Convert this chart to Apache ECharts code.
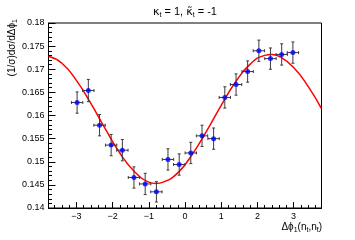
<!DOCTYPE html>
<html><head><meta charset="utf-8">
<script src="https://cdn.jsdelivr.net/npm/echarts@6/dist/echarts.min.js"></script>
<style>html,body{margin:0;padding:0;background:#fff}#c{width:355px;height:240px}</style>
</head><body><div id="c"></div>
<script>
// Data
const binCenters = [-2.98, -2.67, -2.36, -2.04, -1.73, -1.41, -1.10, -0.79, -0.47, -0.16,
                    0.16, 0.47, 0.79, 1.10, 1.41, 1.73, 2.04, 2.36, 2.67, 2.98];
const binHalfWidth = [0.157,0.157,0.157,0.157,0.157,0.157,0.157,0.157,0.157,0.157,
                      0.157,0.157,0.157,0.157,0.157,0.157,0.157,0.157,0.157,0.157];
const yValues = [0.1628, 0.1654, 0.1579, 0.1536, 0.1525, 0.1466, 0.1452, 0.1435, 0.1505, 0.1494,
                 0.1519, 0.1556, 0.1550, 0.1639, 0.1667, 0.1695, 0.1740, 0.1723, 0.1732, 0.1736];
const yErrors = [0.0023,0.0024,0.0023,0.0023,0.0023,0.0023,0.0023,0.0022,0.0023,0.0023,
                 0.0023,0.0023,0.0023,0.0023,0.0023,0.0023,0.0023,0.0023,0.0023,0.0023];
// Fit curve samples
const curveX = [-3.77, -3.4, -3.0, -2.6, -2.2, -1.8, -1.4, -1.0, -0.8, -0.6, -0.2,
                0.2, 0.6, 1.0, 1.4, 1.8, 2.2, 2.4, 2.6, 3.0, 3.4, 3.77];
const curveY = [0.1728, 0.1713, 0.1676, 0.1626, 0.1571, 0.1519, 0.1479, 0.1456, 0.1453, 0.1456, 0.1476,
                0.1516, 0.1567, 0.1622, 0.1673, 0.1711, 0.1730, 0.1732, 0.1728, 0.1704, 0.1663, 0.1615];
const xRange = [-3.77, 3.77];
const yRange = [0.14, 0.18];
const yTickStep = 0.005;

const FONT = 'Liberation Sans, Arial, Helvetica, sans-serif';
const chart = echarts.init(document.getElementById('c'), null, {renderer: 'canvas'});

const errData = binCenters.map((x, i) => [x, yValues[i], binHalfWidth[i], yErrors[i]]);
const ptData = binCenters.map((x, i) => [x, yValues[i]]);
const curveData = curveX.map((x, i) => [x, curveY[i]]);

const subStyle = {fontSize: 7, fontFamily: FONT, color: '#000', padding: [7, 0, 0, 0]};
const kt = {fontSize: 11, fontFamily: 'DejaVu Sans', color: '#000'};

chart.setOption({
  animation: false,
  grid: {left: 48.5, right: 33.5, top: 23, bottom: 32, show: true, borderColor: '#000', borderWidth: 1,
         backgroundColor: 'transparent', containLabel: false, outerBoundsMode: 'none'},
  xAxis: {
    type: 'value', min: xRange[0], max: xRange[1], splitNumber: 7,
    axisLine: {show: true, onZero: false, lineStyle: {color: '#000', width: 1}},
    axisTick: {show: true, inside: true, length: 6, lineStyle: {color: '#000'}},
    minorTick: {show: true, splitNumber: 5, length: 3, lineStyle: {color: '#000'}},
    splitLine: {show: false},
    axisLabel: {showMinLabel: false, showMaxLabel: false, fontSize: 9, fontFamily: FONT, color: '#000', margin: 4,
                formatter: v => (v < 0 ? '\u2212' + Math.abs(v) : String(v))}
  },
  yAxis: {
    type: 'value', min: yRange[0], max: yRange[1], interval: yTickStep,
    axisLine: {show: true, onZero: false, lineStyle: {color: '#000', width: 1}},
    axisTick: {show: true, inside: true, length: 7, lineStyle: {color: '#000'}},
    minorTick: {show: true, splitNumber: 5, length: 3.5, lineStyle: {color: '#000'}},
    splitLine: {show: false},
    axisLabel: {fontSize: 9, fontFamily: FONT, color: '#000', margin: 4,
                formatter: v => String(+v.toFixed(3))}
  },
  series: [
    {
      type: 'line', data: curveData, smooth: 0.5, symbol: 'none', z: 2,
      lineStyle: {color: '#ff0000', width: 1.5}
    },
    {
      type: 'custom', data: errData, z: 3,
      renderItem: (params, api) => {
        const x = api.value(0), y = api.value(1), ex = api.value(2), ey = api.value(3);
        const l = api.coord([x - ex, y]), r = api.coord([x + ex, y]);
        const t = api.coord([x, y + ey]), b = api.coord([x, y - ey]);
        const cap = 1.5;
        const st = {stroke: '#3a3a3a', lineWidth: 1};
        const ln = (x1, y1, x2, y2) => ({type: 'line', shape: {x1, y1, x2, y2}, style: st});
        return {type: 'group', children: [
          ln(l[0], l[1], r[0], r[1]),
          ln(t[0], t[1], b[0], b[1]),
          ln(l[0], l[1] - cap, l[0], l[1] + cap),
          ln(r[0], r[1] - cap, r[0], r[1] + cap),
          ln(t[0] - cap, t[1], t[0] + cap, t[1]),
          ln(b[0] - cap, b[1], b[0] + cap, b[1])
        ]};
      }
    },
    {
      type: 'scatter', data: ptData, symbol: 'circle', symbolSize: 5, z: 4,
      itemStyle: {color: '#0000ff'}
    }
  ],
  graphic: [
    {type: 'text', x: 185, y: 12, z: 10,
     style: {text: '{k|\u03ba}{s|t} = 1, {k|\u03ba\u0303}{s|t} = -1', align: 'center', verticalAlign: 'middle',
             font: '11px ' + FONT, fill: '#000', rich: {s: subStyle, k: kt}}},
    {type: 'text', x: 12, y: 19, rotation: Math.PI / 2, z: 10,
     style: {text: '(1/\u03c3)d\u03c3/d\u0394\u03d5{s|1}', align: 'right', verticalAlign: 'middle',
             font: '10px ' + FONT, fill: '#000', rich: {s: subStyle}}},
    {type: 'text', x: 322, y: 227, z: 10,
     style: {text: '\u0394\u03d5{s|1}(n{s|t},n{s|t\u0304})', align: 'right', verticalAlign: 'middle',
             font: '10px ' + FONT, fill: '#000', rich: {s: subStyle}}}
  ]
});
</script></body></html>
